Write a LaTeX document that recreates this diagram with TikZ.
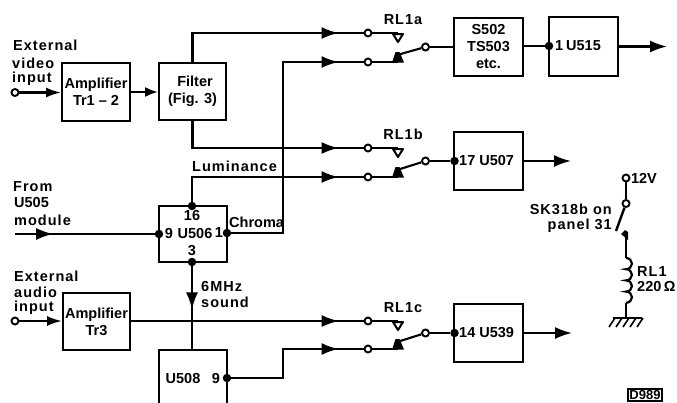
\documentclass[tikz,border=0pt]{standalone}
\usepackage{fontspec}
\setmainfont{Liberation Sans}
\newfontfamily\widefont[LetterSpace=7]{Liberation Sans}
\usetikzlibrary{arrows.meta,decorations.markings,calc}
\tikzset{
  wire/.style={line width=2.1pt},
  thinwire/.style={line width=1.5pt},
  bigtip/.style={-{Latex[length=17pt,width=12pt]}},
  arrowat/.style={postaction={decorate},decoration={markings,mark=at position #1 with {\arrow{Latex[length=17pt,width=12pt]}}}},
  blk/.style={draw,line width=2pt,inner sep=0pt,font=\fontsize{14.5}{17}\selectfont\bfseries,align=center},
  dot/.style={circle,fill=black,inner sep=0pt,minimum size=8.5pt},
  ring/.style={circle,draw,fill=white,line width=1.9pt,inner sep=0pt,minimum size=7pt},
  txt/.style={inner sep=0pt,font=\fontsize{14.5}{17}\selectfont\bfseries},
  wtxt/.style={inner sep=0pt,font=\fontsize{14.5}{17}\selectfont\bfseries\widefont},
}
\newcommand{\relayunit}[5]{%
  % name, label, ytop, ybottom, ylever
  \node[ring] (#1t) at (368,#3) {};
  \node[ring] (#1b) at (368,#4) {};
  \node[ring] (#1o) at (425.5,#5) {};
  \coordinate (#1x) at (398,#3);
  \coordinate (#1y) at (398,#4);
  \draw[wire] (#1t) -- (#1x);
  \draw[wire] (#1b) -- (#1y);
  \draw[line width=2pt,fill=white,line join=round] ($(#1x)+(-5,1)$) -- ($(#1x)+(5,1)$) -- ($(#1x)+(0,9)$) -- cycle;
  \fill[line join=round] ($(#1y)+(-6,0.5)$) -- ($(#1y)+(6,0.5)$) -- ($(#1y)+(1.5,-10)$) -- ($(#1y)+(-2.5,-10)$) -- cycle;
  \draw[wire] ($(#1y)+(-1,-7)$) -- (#1o);
  \node[wtxt] (#1l) at (403,#3-13.5) {#2};
}
\begin{document}
\begin{tikzpicture}[x=1pt,y=-1pt]
\useasboundingbox (0,0) rectangle (677,402);
% Blocks
\node[blk,minimum width=68pt,minimum height=58pt] (amp1) at (96,92) {Amplifier\\Tr1 -- 2};
\node[blk,minimum width=67pt,minimum height=57pt] (filter) at (192.5,91.5) {\hspace{5pt}Filter\\(Fig. 3)};
\node[blk,minimum width=68pt,minimum height=56pt] (u506) at (193,234) {};
\node[blk,minimum width=67pt,minimum height=57pt] (amp2) at (96.5,321.5) {Amplifier\\Tr3};
\node[blk,minimum width=69pt,minimum height=58pt] (s502) at (488.5,47) {S502\\TS503\\etc.};
\node[blk,minimum width=69pt,minimum height=59pt] (u515) at (583.5,46.5) {};
\node[blk,minimum width=69pt,minimum height=58pt] (u507) at (488.5,161) {};
\node[blk,minimum width=69pt,minimum height=58pt] (u539) at (488.5,333) {};
% U508, running off the lower edge
\coordinate (u508a) at (159,404);
\coordinate (u508b) at (159,350);
\coordinate (u508c) at (227,350);
\coordinate (u508d) at (227,404);
\draw[line width=2pt] (u508a) -- (u508b) -- (u508c) -- (u508d);
\node[txt] (u508t) at (183,379) {U508};
\node[txt] (u508n) at (216,379) {9};
% Terminals
\node[ring] (invid) at (15,92.5) {};
\node[ring] (inaud) at (15,321) {};
\coordinate (infrom) at (15,234);
\node[dot] (d9) at (159,234) {};
\node[dot] (d16) at (192,206) {};
\node[dot] (d1) at (227,233) {};
\node[dot] (d3) at (192,262) {};
\node[dot] (d508) at (227,378) {};
\node[dot] (d515) at (549,46) {};
\node[dot] (d507) at (454.5,161) {};
\node[dot] (d539) at (454.5,333) {};
% Relay contacts
\relayunit{ra}{RL1a}{33}{62}{47}
\relayunit{rb}{RL1b}{148}{177}{161}
\relayunit{rc}{RL1c}{321}{349}{333}
% Bends
\coordinate (busa) at (283,233);
\coordinate (busc) at (283,378);
\coordinate (aud) at (130,321);
% Connectors
\draw[wire,-{Latex[length=15pt,width=10pt]}] (invid) -- (amp1.west |- invid);
\draw[wire,-{Latex[length=13pt,width=10pt]}] (amp1.east |- 130,92) -- (filter.west |- 130,92);
\draw[wire,arrowat=-25pt] (filter.north) |- (rat);
\draw[wire,arrowat=-25pt] (d1) -- (busa) |- (rab);
\draw[wire,arrowat=-25pt] (filter.south) |- (rbt);
\draw[wire,arrowat=-25pt] (d16) |- (rbb);
\draw[thinwire,arrowat=38pt] (infrom) -- (d9);
\draw[wire,arrowat=43pt] (d3) -- (u508c -| d3);
\draw[wire,-{Latex[length=15pt,width=10pt]}] (inaud) -- (amp2.west |- inaud);
\draw[thinwire,arrowat=-25pt] (aud) -- (rct);
\draw[wire,arrowat=-25pt] (d508) -- (busc) |- (rcb);
\draw[wire] (rao) -- (s502.west |- rao);
\draw[line width=2.6pt] (s502.east |- d515) -- (d515);
\draw[wire,bigtip] (u515.east) -- (667,46.5);
\draw[wire] (rbo) -- (d507);
\draw[wire,bigtip] (u507.east) -- (571,161);
\draw[wire] (rco) -- (d539);
\draw[wire,bigtip] (u539.east) -- (572,333);
% SK318b and relay coil
\node[ring] (v12) at (626,178) {};
\node[ring] (sw) at (626,203.5) {};
\coordinate (swl) at (616,231);
\coordinate (swc) at (626,235);
\coordinate (coila) at (626,258);
\coordinate (coilb) at (626,303);
\coordinate (gnd) at (626,318);
\draw[line width=2.4pt] (v12) -- (sw);
\draw[line width=2.4pt] (sw) -- (swl);
\fill (621,234) -- (625,230) -- (628,232) -- (628,240) -- cycle;
\draw[line width=2.4pt] (swc) -- (coila);
\draw[line width=2.2pt] (coila) arc[start angle=-90,end angle=90,x radius=6,y radius=5.6]
  arc[start angle=-90,end angle=90,x radius=6,y radius=5.6]
  arc[start angle=-90,end angle=90,x radius=6,y radius=5.6]
  arc[start angle=-90,end angle=90,x radius=6,y radius=5.6];
\draw[line width=2.2pt] (coilb) -- (gnd);
\draw[line width=2pt] (613,318) -- (642,318);
\foreach \hx in {618,625,632,639,646}{
  \draw[line width=1.6pt] (\hx-3,318) -- (\hx-9,327);
}
% Labels
\node[wtxt,anchor=west] (l1) at (13,45) {External};
\node[wtxt,anchor=west] (l2) at (12,63) {video};
\node[wtxt,anchor=west] (l3) at (12,79) {input};
\node[wtxt,anchor=west] (l4) at (13,187) {From};
\node[txt,anchor=west] (l5) at (14,203) {U505};
\node[wtxt,anchor=west] (l6) at (14,220) {module};
\node[wtxt,anchor=west] (l7) at (14,276) {External};
\node[wtxt,anchor=west] (l8) at (14,292) {audio};
\node[wtxt,anchor=west] (l9) at (14,308) {input};
\node[wtxt,anchor=west] (l10) at (192,166) {Luminance};
\node[txt,anchor=west] (l11) at (229,222) {Chroma};
\node[txt] (l12) at (192,216) {16};
\node[txt] (l13) at (169,234) {9};
\node[txt] (l14) at (195,234) {U506};
\node[txt] (l15) at (219,233) {1};
\node[txt] (l16) at (192,251) {3};
\node[wtxt,anchor=west] (l17) at (201,287) {6MHz};
\node[wtxt,anchor=west] (l18) at (201,302) {sound};
\node[txt,anchor=west] (l19) at (555,46) {1};
\node[txt,anchor=west] (l20) at (566,46) {U515};
\node[txt,anchor=west] (l21) at (459,161) {17 U507};
\node[txt,anchor=west] (l22) at (459,333) {14 U539};
\node[txt] (l23) at (644,178) {12V};
\node[wtxt,anchor=east] (l24) at (612,209) {SK318b on};
\node[wtxt,anchor=east] (l25) at (612,226) {panel 31};
\node[wtxt,anchor=west] (l26) at (637,272) {RL1};
\node[txt,anchor=west] (l27) at (637,287) {220\,Ω};
\node[draw,line width=2pt,inner sep=1pt,font=\fontsize{13}{15}\selectfont\bfseries] (l28) at (645,395) {D989};
\end{tikzpicture}
\end{document}
